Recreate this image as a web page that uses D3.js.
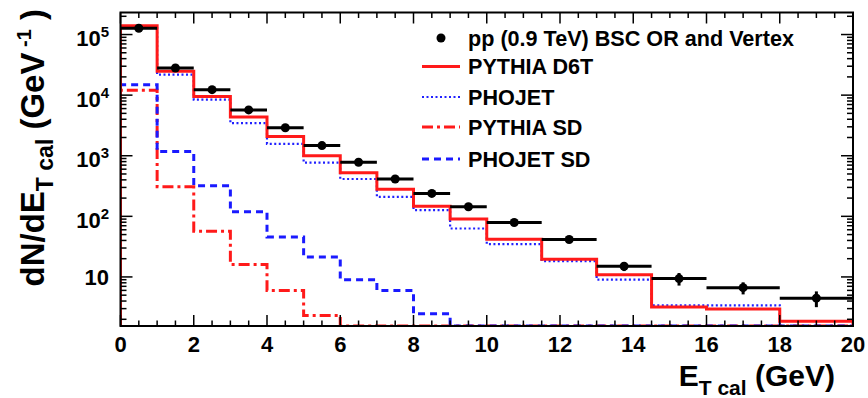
<!DOCTYPE html>
<html><head><meta charset="utf-8">
<script src="https://cdn.jsdelivr.net/npm/d3@7"></script>
<style>body{margin:0;background:#fff}svg{display:block}</style>
</head><body>
<script>
// ---- data ----
const binEdges   = [0,1,2,3,4,5,6,7,8,9,10,11.5,13,14.5,16,18,20];
const dataValues = [1.27e5,2.8e4,1.23e4,5.7e3,2.9e3,1.47e3,780,413,239,144,79,41.5,15.0,9.4,6.65,4.47];
const dataErrors = [1.5e3,5e2,2.5e2,1.2e2,70,40,25,15,10,8,5,3.5,2.5,2.2,1.5,1.3];
const pythiaD6T  = [1.4e5,2.47e4,9.5e3,4.34e3,2.07e3,1.0e3,525,279,147,90,42,19.6,10.9,3.2,2.95,1.86];
const phojet     = [1.38e5,2.18e4,8.4e3,3.45e3,1.57e3,770,413,210,127,63,34.7,18.3,9.0,3.4,3.4,0];
const pythiaSD   = [1.2e4,308,57,16,6.0,2.31,0,0,0,0,0,0,0,0,0,0];
const phojetSD   = [1.49e4,1.17e3,320,119,45.8,21.4,9.0,6.0,2.47,0,0,0,0,0,0,0];
const xTickLabels = [0,2,4,6,8,10,12,14,16,18,20];
const yTickExps   = [1,2,3,4,5];
const legendLabels = ["pp (0.9 TeV) BSC OR and Vertex","PYTHIA D6T","PHOJET","PYTHIA SD","PHOJET SD"];

// ---- layout ----
const W = 868, H = 398;
const L = 120.5, R = 853, T = 12.5, B = 326;
const FONT = "'Liberation Sans', Arial, Helvetica, sans-serif";

const svg = d3.select("body").append("svg").attr("width", W).attr("height", H)
  .style("font-family", FONT).style("font-weight", "bold");

const x = d3.scaleLinear().domain([0, 20]).range([L, R]);
const y = d3.scaleLog().domain([1.55, 2.31e5]).range([B, T]);
const yv = v => v > 0 ? Math.min(B, y(v)) : B;

svg.append("defs").append("clipPath").attr("id", "clip")
  .append("rect").attr("x", L).attr("y", T).attr("width", R - L).attr("height", B - T);

const plot = svg.append("g").attr("clip-path", "url(#clip)");

function stepPath(vals) {
  const pts = [[binEdges[0], 0]];
  vals.forEach((v, i) => { pts.push([binEdges[i], v]); pts.push([binEdges[i + 1], v]); });
  pts.push([binEdges[binEdges.length - 1], 0]);
  return d3.line().x(d => x(d[0])).y(d => yv(d[1]))(pts);
}

const series = [
  {vals: pythiaSD,  color: "#ff1a1a", width: 3,   dash: "11,4,3,4"},
  {vals: phojetSD,  color: "#1a1aff", width: 3,   dash: "7,5"},
  {vals: phojet,    color: "#2020ff", width: 2.2, dash: "2,2.5"},
  {vals: pythiaD6T, color: "#ff1a1a", width: 3,   dash: null}
];
series.forEach(s => {
  plot.append("path").attr("d", stepPath(s.vals)).attr("fill", "none")
    .attr("stroke", s.color).attr("stroke-width", s.width)
    .attr("stroke-dasharray", s.dash);
});

// data points
const dg = plot.append("g");
dataValues.forEach((v, i) => {
  const xc = (binEdges[i] + binEdges[i + 1]) / 2;
  dg.append("line").attr("x1", x(binEdges[i])).attr("x2", x(binEdges[i + 1]))
    .attr("y1", y(v)).attr("y2", y(v)).attr("stroke", "#000").attr("stroke-width", 3);
  dg.append("line").attr("x1", x(xc)).attr("x2", x(xc))
    .attr("y1", y(v + dataErrors[i])).attr("y2", y(Math.max(v - dataErrors[i], 1.6)))
    .attr("stroke", "#000").attr("stroke-width", 3);
  dg.append("circle").attr("cx", x(xc)).attr("cy", y(v)).attr("r", 4.5).attr("fill", "#000");
});

// ---- frame & ticks ----
const ax = svg.append("g").attr("stroke", "#000");
ax.append("rect").attr("x", L).attr("y", T).attr("width", R - L).attr("height", B - T)
  .attr("fill", "none").attr("stroke-width", 2);

d3.range(0, 20.001, 0.5).forEach(t => {
  const major = Math.abs(t % 2) < 1e-9;
  const len = major ? 11 : 5.5;
  ax.append("line").attr("x1", x(t)).attr("x2", x(t)).attr("y1", B).attr("y2", B - len).attr("stroke-width", 1.5);
  ax.append("line").attr("x1", x(t)).attr("x2", x(t)).attr("y1", T).attr("y2", T + len).attr("stroke-width", 1.5);
});
const yTickVals = [];
for (let e = 0; e <= 5; e++) for (let m = 1; m <= 9; m++) {
  const v = m * Math.pow(10, e);
  if (v >= 1.55 && v <= 2.31e5) yTickVals.push({v, major: m === 1});
}
yTickVals.forEach(t => {
  const len = t.major ? 12 : 6;
  ax.append("line").attr("x1", L).attr("x2", L + len).attr("y1", y(t.v)).attr("y2", y(t.v)).attr("stroke-width", 1.5);
  ax.append("line").attr("x1", R).attr("x2", R - len).attr("y1", y(t.v)).attr("y2", y(t.v)).attr("stroke-width", 1.5);
});

// tick labels
svg.append("g").selectAll("text").data(xTickLabels).join("text")
  .attr("x", d => x(d)).attr("y", 352).attr("text-anchor", "middle")
  .attr("font-size", 22).attr("fill", "#000").text(d => d);

yTickExps.forEach(e => {
  const t = svg.append("text").attr("x", 109).attr("text-anchor", "end")
    .attr("font-size", 22).attr("fill", "#000");
  if (e === 1) {
    t.attr("y", y(10) + 8).text("10");
  } else {
    t.attr("y", y(Math.pow(10, e)) + 11.5);
    t.append("tspan").text("10");
    t.append("tspan").attr("font-size", 15).attr("dy", -9).text(e);
  }
});

// axis titles
const xt = svg.append("text").attr("x", 835).attr("y", 386).attr("text-anchor", "end")
  .attr("font-size", 30).attr("fill", "#000");
xt.append("tspan").text("E");
xt.append("tspan").attr("font-size", 21).attr("dy", 9).text("T cal");
xt.append("tspan").attr("dy", -9).text(" (GeV)");

const yt = svg.append("text").attr("transform", "translate(44,9) rotate(-90)")
  .attr("text-anchor", "end").attr("font-size", 33).attr("fill", "#000");
yt.append("tspan").text("dN/dE");
yt.append("tspan").attr("font-size", 23).attr("dy", 9).text("T cal");
yt.append("tspan").attr("dy", -9).text(" (GeV");
yt.append("tspan").attr("font-size", 20).attr("dy", -13).text(" -1");
yt.append("tspan").attr("dy", 13).text("  )");

// ---- legend ----
const legY = [38, 66.5, 97, 127, 159];
const lg = svg.append("g");
legendLabels.forEach((lab, i) => {
  lg.append("text").attr("x", 468).attr("y", legY[i] + 7.5).attr("font-size", 21.6)
    .attr("fill", "#000").text(lab);
});
lg.append("circle").attr("cx", 441).attr("cy", legY[0]).attr("r", 4.5).attr("fill", "#000");
const legSeries = [series[3], series[2], series[0], series[1]];
legSeries.forEach((s, j) => {
  lg.append("line").attr("x1", 422).attr("x2", 460).attr("y1", legY[j + 1]).attr("y2", legY[j + 1])
    .attr("stroke", s.color).attr("stroke-width", s.width).attr("stroke-dasharray", s.dash);
});
</script>
</body></html>
